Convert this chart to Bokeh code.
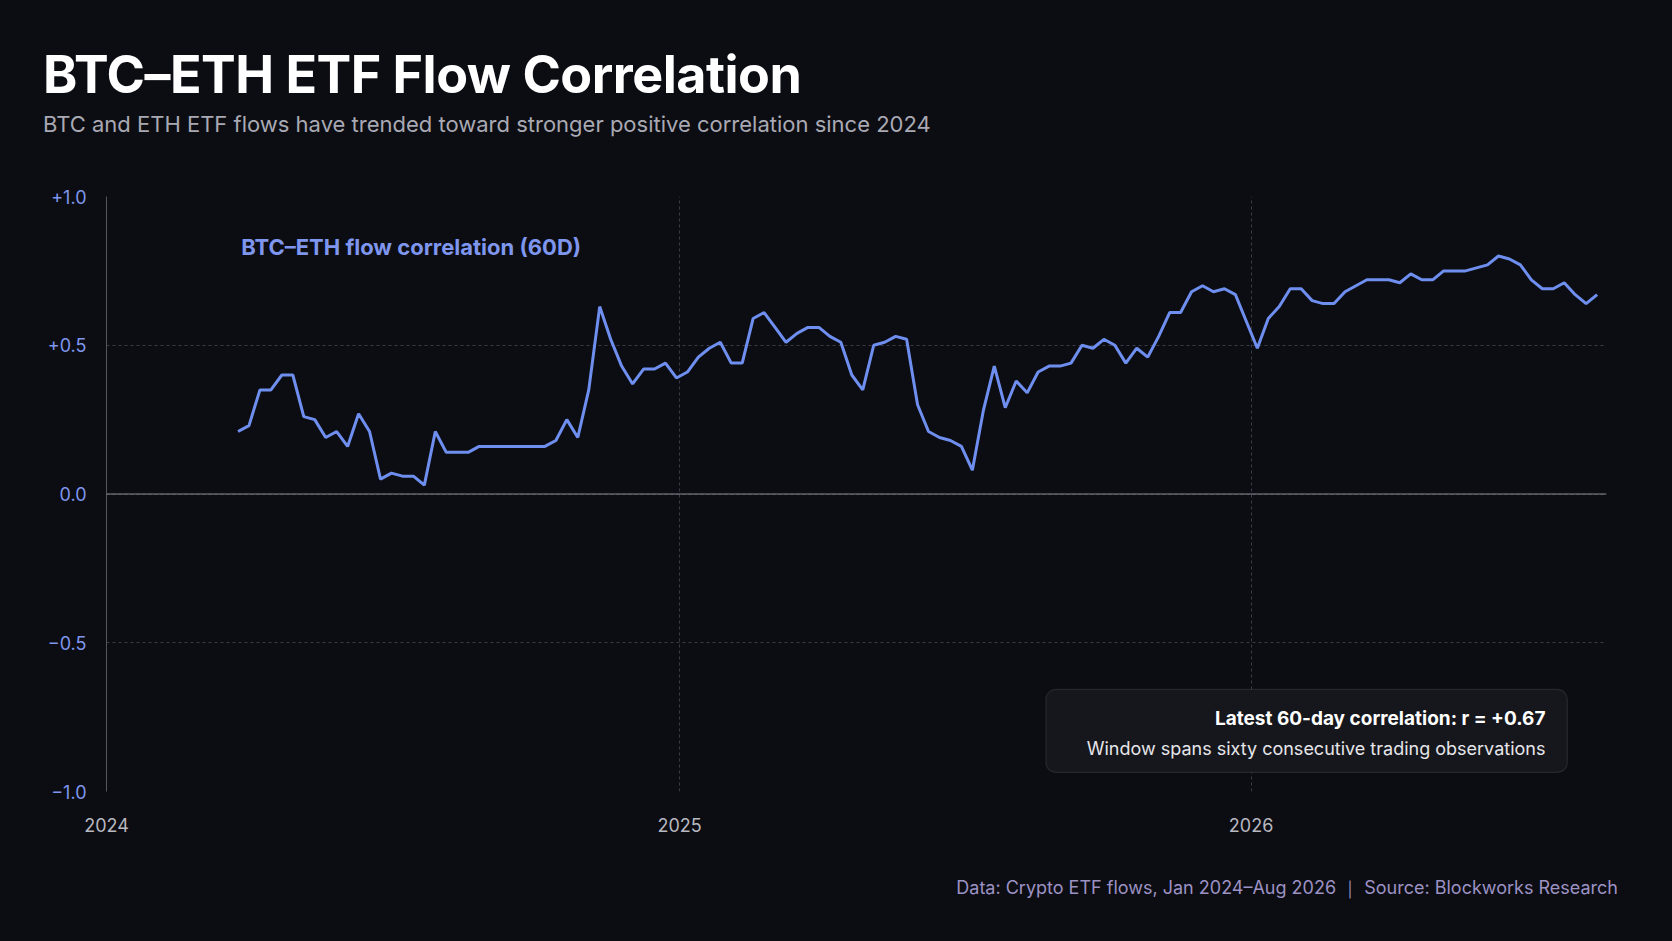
from bokeh.plotting import figure
from bokeh.models import Div, BoxAnnotation, Label, Span, FixedTicker, DatetimeTickFormatter
from bokeh.layouts import column
from bokeh.embed import file_html
from bokeh.resources import INLINE
import pandas as pd

BG = "#0c0d12"
start_date = "2024-03-25"
corr = [0.21,0.23,0.35,0.35,0.40,0.40,0.26,0.25,0.19,0.21,0.16,0.27,0.21,0.05,0.07,0.06,0.06,0.03,0.21,0.14,
        0.14,0.14,0.16,0.16,0.16,0.16,0.16,0.16,0.16,0.18,0.25,0.19,0.35,0.63,0.52,0.43,0.37,0.42,0.42,0.44,
        0.39,0.41,0.46,0.49,0.51,0.44,0.44,0.59,0.61,0.56,0.51,0.54,0.56,0.56,0.53,0.51,0.40,0.35,0.50,0.51,
        0.53,0.52,0.30,0.21,0.19,0.18,0.16,0.08,0.28,0.43,0.29,0.38,0.34,0.41,0.43,0.43,0.44,0.50,0.49,0.52,
        0.50,0.44,0.49,0.46,0.53,0.61,0.61,0.68,0.70,0.68,0.69,0.67,0.58,0.49,0.59,0.63,0.69,0.69,0.65,0.64,
        0.64,0.68,0.70,0.72,0.72,0.72,0.71,0.74,0.72,0.72,0.75,0.75,0.75,0.76,0.77,0.80,0.79,0.77,0.72,0.69,
        0.69,0.71,0.67,0.64,0.67]
dates = pd.date_range(start_date, periods=len(corr), freq="7D")
year_ticks = ["2024-01-01", "2025-01-01", "2026-01-01"]
y_ticks = [-1.0, -0.5, 0.0, 0.5, 1.0]
y_labels = ["\u22121.0", "\u22120.5", "0.0", "+0.5", "+1.0"]

FONT = "Inter"
header = Div(width=1656, height=188, styles={"background": BG, "margin": "0"}, text=f"""
<div style="position:relative;width:1656px;height:188px;background:{BG};font-family:{FONT};">
<div style="position:absolute;left:43px;top:38px;font-size:52px;font-weight:700;color:#ffffff;letter-spacing:-0.5px;">BTC\u2013ETH ETF Flow Correlation</div>
<div style="position:absolute;left:43px;top:109px;font-size:22px;color:#a9a9b4;">BTC and ETH ETF flows have trended toward stronger positive correlation since 2024</div>
</div>""")

p = figure(width=1656, height=653, x_axis_type="datetime", output_backend="svg", toolbar_location=None,
           x_range=(pd.Timestamp("2024-01-01"), pd.Timestamp("2026-08-16")), y_range=(-1, 1),
           background_fill_color=BG, border_fill_color=BG, outline_line_color=None,
           min_border_left=106, min_border_right=50, min_border_top=8, min_border_bottom=50)
p.line(dates, corr, line_color="#6f8ff0", line_width=3)
p.add_layout(Span(location=0, dimension="width", line_color="#8a8a94", line_width=1.2))

p.xaxis.ticker = FixedTicker(ticks=[pd.Timestamp(t).value / 1e6 for t in year_ticks])
p.xaxis.formatter = DatetimeTickFormatter(years="%Y", months="%Y", days="%Y")
p.yaxis.ticker = FixedTicker(ticks=y_ticks)
p.yaxis.major_label_overrides = {t: l for t, l in zip(y_ticks, y_labels)}
for ax in (p.xaxis, p.yaxis):
    ax.major_tick_line_color = None
    ax.minor_tick_line_color = None
    ax.major_label_text_font = FONT
    ax.major_label_text_font_size = "18px"
p.xaxis.axis_line_color = None
p.yaxis.axis_line_color = "#55565e"
p.xaxis.major_label_text_color = "#b8b8c0"
p.yaxis.major_label_text_color = "#7f96ee"
p.xaxis.major_label_standoff = 20
p.yaxis.major_label_standoff = 14
for g in (p.xgrid, p.ygrid):
    g.grid_line_color = "#3a3b44"
    g.grid_line_dash = "3 3"
    g.grid_line_width = 1

p.add_layout(Label(x=pd.Timestamp("2024-03-27"), y=0.83, text="BTC\u2013ETH flow correlation (60D)",
                   text_color="#7f96ee", text_font=FONT, text_font_size="22px", text_font_style="bold",
                   text_baseline="middle"))
p.add_layout(BoxAnnotation(left=pd.Timestamp("2025-08-23"), right=pd.Timestamp("2026-07-22"),
                           top=-0.657, bottom=-0.936, fill_color="#16171c", fill_alpha=1,
                           line_color="#5a5b63", line_width=1.2, border_radius=10))
p.add_layout(Label(x=pd.Timestamp("2026-07-08"), y=-0.755, text="Latest 60-day correlation: r = +0.67",
                   text_color="#ffffff", text_font=FONT, text_font_size="19px", text_font_style="bold",
                   text_align="right", text_baseline="middle"))
p.add_layout(Label(x=pd.Timestamp("2026-07-08"), y=-0.855, text="Window spans sixty consecutive trading observations",
                   text_color="#e6e6ea", text_font=FONT, text_font_size="18px",
                   text_align="right", text_baseline="middle"))

footer = Div(width=1656, height=80, styles={"background": BG, "margin": "0"}, text=f"""
<div style="position:relative;width:1656px;height:80px;background:{BG};font-family:{FONT};">
<div style="position:absolute;right:38px;top:34px;font-size:18px;color:#9c92c4;">Data: Crypto ETF flows, Jan 2024\u2013Aug 2026 &#xFF5C; Source: Blockworks Research</div>
</div>""")

layout = column(header, p, footer, spacing=0, styles={"background": BG})
html = file_html(layout, INLINE)
html = html.replace("<body>", f'<body style="background:{BG};margin:8px;">', 1)
html = html.replace("<html", f'<html style="background:{BG};"', 1)
open("out.html", "w").write(html)
